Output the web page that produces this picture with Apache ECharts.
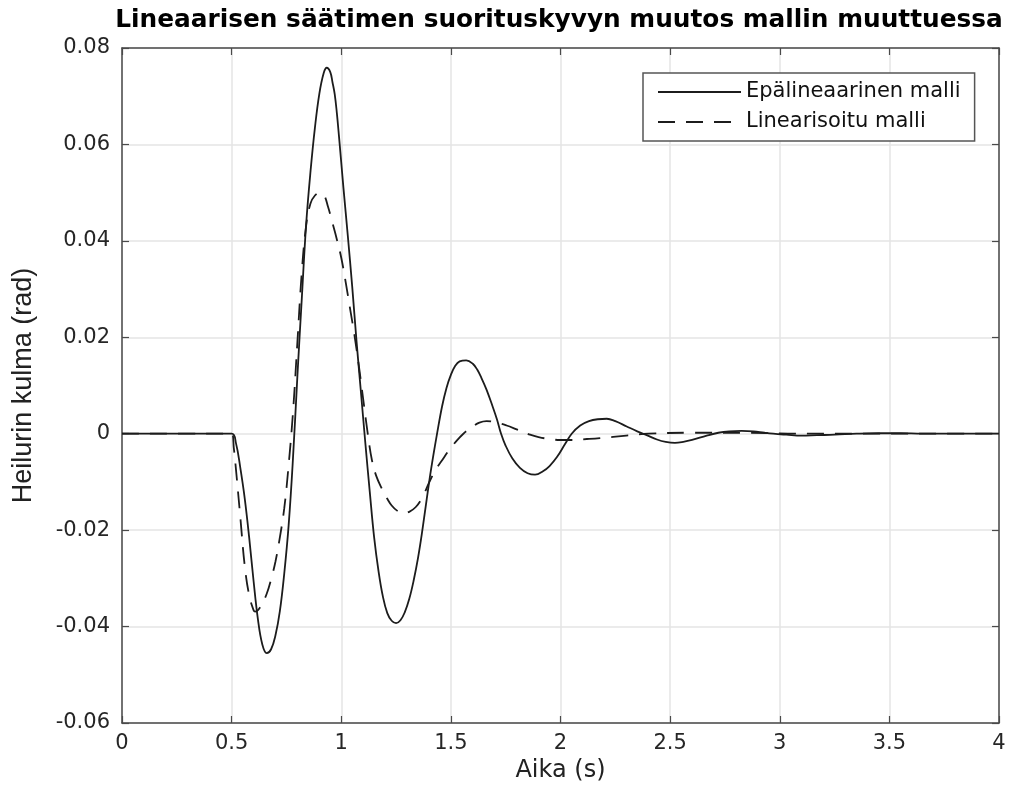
<!DOCTYPE html>
<html>
<head>
<meta charset="utf-8">
<script src="https://cdn.jsdelivr.net/npm/echarts@6/dist/echarts.min.js"></script>
<style>
html,body{margin:0;padding:0;background:#fff;}
#chart{width:1031px;height:803px;}
</style>
</head>
<body>
<div id="chart"></div>
<script>
// ---- data ----
const titleText = 'Lineaarisen säätimen suorituskyvyn muutos mallin muuttuessa';
const xName = 'Aika (s)';
const yName = 'Heilurin kulma (rad)';
const seriesNames = ['Epälineaarinen malli', 'Linearisoitu malli'];

const tSolid = [0, 0.5, 0.52, 0.54, 0.56, 0.58, 0.60, 0.62, 0.64, 0.66, 0.68, 0.70, 0.72, 0.74, 0.76, 0.78, 0.80, 0.82, 0.84, 0.86, 0.88, 0.90, 0.92, 0.934, 0.95, 0.96, 0.97, 0.98, 0.99, 1.01, 1.03, 1.05, 1.07, 1.09, 1.11, 1.13, 1.15, 1.17, 1.19, 1.21, 1.23, 1.25, 1.27, 1.29, 1.31, 1.33, 1.35, 1.37, 1.39, 1.41, 1.437, 1.46, 1.48, 1.50, 1.52, 1.54, 1.57, 1.60, 1.62, 1.64, 1.663, 1.69, 1.71, 1.729, 1.75, 1.78, 1.815, 1.85, 1.884, 1.92, 1.95, 1.983, 2.02, 2.051, 2.09, 2.13, 2.17, 2.211, 2.25, 2.302, 2.35, 2.393, 2.44, 2.48, 2.522, 2.56, 2.60, 2.667, 2.72, 2.77, 2.826, 2.88, 2.93, 2.97, 3.03, 3.10, 3.17, 3.25, 3.35, 3.45, 3.55, 3.65, 4.0];
const vSolid = [0, 0, -0.002, -0.0072, -0.0135, -0.0215, -0.0305, -0.0385, -0.0437, -0.0455, -0.0447, -0.0418, -0.0368, -0.0290, -0.0190, -0.0050, 0.012, 0.028, 0.0435, 0.0545, 0.0635, 0.0705, 0.0748, 0.0759, 0.0750, 0.0729, 0.0705, 0.0665, 0.0615, 0.051, 0.041, 0.0305, 0.019, 0.0085, -0.002, -0.012, -0.0215, -0.0285, -0.0338, -0.0372, -0.0388, -0.0393, -0.0387, -0.0370, -0.0343, -0.0305, -0.0258, -0.0200, -0.0135, -0.0073, 0, 0.0057, 0.0095, 0.0122, 0.0141, 0.015, 0.0152, 0.0145, 0.0133, 0.0115, 0.0091, 0.0057, 0.003, 0, -0.0025, -0.0051, -0.0071, -0.0082, -0.0085, -0.0078, -0.0067, -0.0049, -0.0022, 0, 0.0017, 0.0026, 0.003, 0.0031, 0.0026, 0.0015, 0.0005, -0.0003, -0.0012, -0.0017, -0.0019, -0.0017, -0.0013, -0.0004, 0.0002, 0.0005, 0.0006, 0.0005, 0.0002, 0, -0.0002, -0.0004, -0.0003, -0.0002, 0, 0.0001, 0.0001, 0, 0];

const tDashed = [0, 0.5, 0.51, 0.52, 0.54, 0.56, 0.58, 0.60, 0.607, 0.62, 0.64, 0.66, 0.68, 0.70, 0.72, 0.74, 0.76, 0.78, 0.80, 0.82, 0.84, 0.86, 0.88, 0.90, 0.92, 0.94, 0.96, 0.98, 1.00, 1.02, 1.04, 1.06, 1.08, 1.10, 1.12, 1.14, 1.16, 1.184, 1.21, 1.23, 1.253, 1.283, 1.31, 1.34, 1.37, 1.40, 1.43, 1.46, 1.49, 1.52, 1.557, 1.60, 1.63, 1.663, 1.70, 1.754, 1.80, 1.861, 1.90, 1.95, 2.0, 2.05, 2.12, 2.18, 2.30, 2.40, 2.6, 2.85, 3.1, 4.0];
const vDashed = [0, 0, -0.003, -0.0075, -0.0175, -0.0275, -0.0335, -0.0366, -0.0369, -0.0366, -0.0352, -0.0332, -0.0302, -0.0265, -0.0215, -0.0155, -0.0065, 0.0045, 0.019, 0.0335, 0.0432, 0.0478, 0.0494, 0.0499, 0.0496, 0.047, 0.0437, 0.0403, 0.0365, 0.0315, 0.026, 0.0205, 0.0142, 0.0072, 0.0003, -0.0055, -0.0088, -0.0113, -0.0135, -0.0149, -0.0159, -0.0165, -0.0162, -0.0152, -0.0132, -0.0102, -0.0075, -0.0055, -0.0035, -0.0018, 0, 0.0015, 0.0023, 0.0026, 0.0024, 0.0017, 0.0009, -0.0002, -0.0007, -0.0011, -0.0013, -0.0013, -0.0011, -0.0009, -0.0004, 0, 0.0002, 0.0002, 0, 0];

const xMin = 0, xMax = 4, xStep = 0.5;
const yMin = -0.06, yMax = 0.08, yStep = 0.02;

// ---- chart ----
const pairs = (t, v) => t.map((x, i) => [x, v[i]]);
const FONT = "'DejaVu Sans', sans-serif";
const axisColor = '#4a4a4a';
const gridColor = '#e4e4e4';

const yFmt = v => Math.abs(v) < 1e-9 ? '0' : v.toFixed(2);
const xFmt = v => String(Math.round(v * 100) / 100);

const chart = echarts.init(document.getElementById('chart'), null, {renderer: 'canvas'});
const baseAxisLine = {show: true, onZero: false, lineStyle: {color: axisColor, width: 1.5}};
const baseTick = {show: true, inside: true, length: 7, lineStyle: {color: axisColor, width: 1.2}};

chart.setOption({
  animation: false,
  backgroundColor: '#ffffff',
  title: {
    text: titleText,
    left: 559,
    textAlign: 'center',
    top: 8,
    padding: 0,
    textStyle: {fontFamily: FONT, fontWeight: 'bold', fontSize: 24.8, color: '#000'}
  },
  grid: {left: 122, right: 32, top: 48, bottom: 80, containLabel: false},
  legend: {
    orient: 'vertical',
    left: 643,
    top: 73,
    padding: [7, 14, 7, 14],
    itemWidth: 83,
    itemHeight: 14,
    itemGap: 6,
    itemTextGap: 7,
    borderColor: '#555',
    borderWidth: 1.5,
    backgroundColor: '#fff',
    itemStyle: {opacity: 0},
    textStyle: {fontFamily: FONT, fontSize: 21, color: '#111', lineHeight: 24},
    data: seriesNames
  },
  xAxis: [{
    type: 'value', min: xMin, max: xMax, interval: xStep,
    name: xName, nameLocation: 'middle', nameGap: 27,
    nameTextStyle: {fontFamily: FONT, fontSize: 24, color: '#222'},
    axisLine: baseAxisLine, axisTick: baseTick,
    axisLabel: {fontFamily: FONT, fontSize: 21, color: '#262626', margin: 10, formatter: xFmt},
    splitLine: {show: true, lineStyle: {color: gridColor, width: 1.5}}
  }, {
    type: 'value', min: xMin, max: xMax, interval: xStep, position: 'top',
    axisLine: baseAxisLine, axisTick: baseTick, axisLabel: {show: false}, splitLine: {show: false}
  }],
  yAxis: [{
    type: 'value', min: yMin, max: yMax, interval: yStep,
    name: yName, nameLocation: 'middle', nameGap: 85, nameRotate: 90,
    nameTextStyle: {fontFamily: "'Liberation Sans', Arial, sans-serif", fontSize: 27, color: '#222'},
    axisLine: baseAxisLine, axisTick: baseTick,
    axisLabel: {fontFamily: FONT, fontSize: 21, color: '#262626', margin: 12, formatter: yFmt},
    splitLine: {show: true, lineStyle: {color: gridColor, width: 1.5}}
  }, {
    type: 'value', min: yMin, max: yMax, interval: yStep, position: 'right',
    axisLine: baseAxisLine, axisTick: baseTick, axisLabel: {show: false}, splitLine: {show: false}
  }],
  series: [{
    name: seriesNames[0], type: 'line', showSymbol: false, symbol: 'none', smooth: 0.4,
    data: pairs(tSolid, vSolid),
    lineStyle: {color: '#1c1c1c', width: 1.8, type: 'solid'},
    itemStyle: {color: '#1c1c1c'}
  }, {
    name: seriesNames[1], type: 'line', showSymbol: false, symbol: 'none', smooth: 0.4,
    data: pairs(tDashed, vDashed),
    lineStyle: {color: '#1c1c1c', width: 1.8, type: [17, 11]},
    itemStyle: {color: '#1c1c1c'}
  }]
});
</script>
</body>
</html>
